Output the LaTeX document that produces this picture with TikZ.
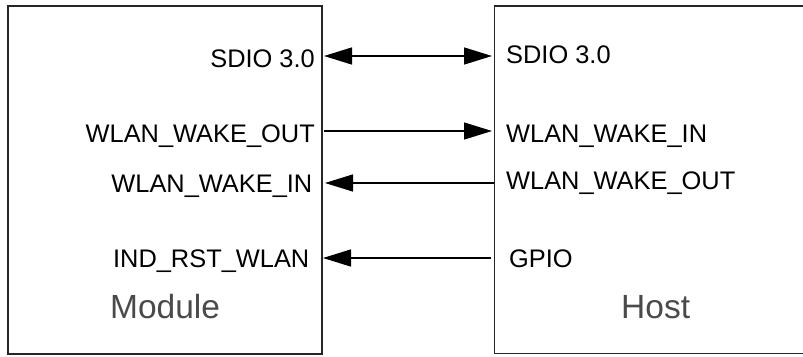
\documentclass[tikz,border=0pt]{standalone}
\usepackage{fontspec}
\setmainfont{Liberation Sans}
\usetikzlibrary{arrows.meta}
\definecolor{boxline}{HTML}{262626}
\definecolor{titlegray}{HTML}{4A4A4A}
\tikzset{
  blockbox/.style={draw=boxline, line width=1.8pt},
  portlabel/.style={inner sep=0pt, font=\fontsize{25.4}{28}\selectfont, text=black},
  titlelabel/.style={inner sep=0pt, font=\fontsize{33.5}{38}\selectfont, text=titlegray},
  wire/.style={line width=1.4pt, draw=black},
  tip/.style={-{Triangle[length=28pt,width=17pt]}},
  bitip/.style={{Triangle[length=28pt,width=17pt]}-{Triangle[length=28pt,width=17pt]}}
}
\begin{document}
\begin{tikzpicture}[x=1pt,y=-1pt]
\useasboundingbox (0,0) rectangle (803,356);
% blocks
\draw[blockbox] (8,6) rectangle (322,354);
\draw[blockbox] (812,6) -- (494.5,6) -- (494.5,353.5) -- (812,353.5);
% module labels
\node[portlabel, anchor=base east] (mSdio) at (315,67) {SDIO 3.0};
\node[portlabel, anchor=base east] (mWakeOut) at (315,142) {WLAN\_WAKE\_OUT};
\node[portlabel, anchor=base east] (mWakeIn) at (312.5,192) {WLAN\_WAKE\_IN};
\node[portlabel, anchor=base east] (mRst) at (309.5,267) {IND\_RST\_WLAN};
\node[titlelabel, anchor=base west] (module) at (110,318) {Module};
% host labels
\node[portlabel, anchor=base west] (hSdio) at (506,63) {SDIO 3.0};
\node[portlabel, anchor=base west] (hWakeIn) at (506,142) {WLAN\_WAKE\_IN};
\node[portlabel, anchor=base west] (hWakeOut) at (506,189) {WLAN\_WAKE\_OUT};
\node[portlabel, anchor=base west] (hGpio) at (509,267) {GPIO};
\node[titlelabel, anchor=base west] (host) at (621,318) {Host};
% port ends
\coordinate (pA1) at (324,56);   \coordinate (pA2) at (492,56);
\coordinate (pB1) at (324,131);  \coordinate (pB2) at (492,131);
\coordinate (pC1) at (325,183);  \coordinate (pC2) at (494,183);
\coordinate (pD1) at (323,258);  \coordinate (pD2) at (491,258);
% connectors
\draw[wire, bitip] (pA1) -- (pA2);
\draw[wire, tip] (pB1) -- (pB2);
\draw[wire, tip] (pC2) -- (pC1);
\draw[wire, tip] (pD2) -- (pD1);
\end{tikzpicture}
\end{document}
